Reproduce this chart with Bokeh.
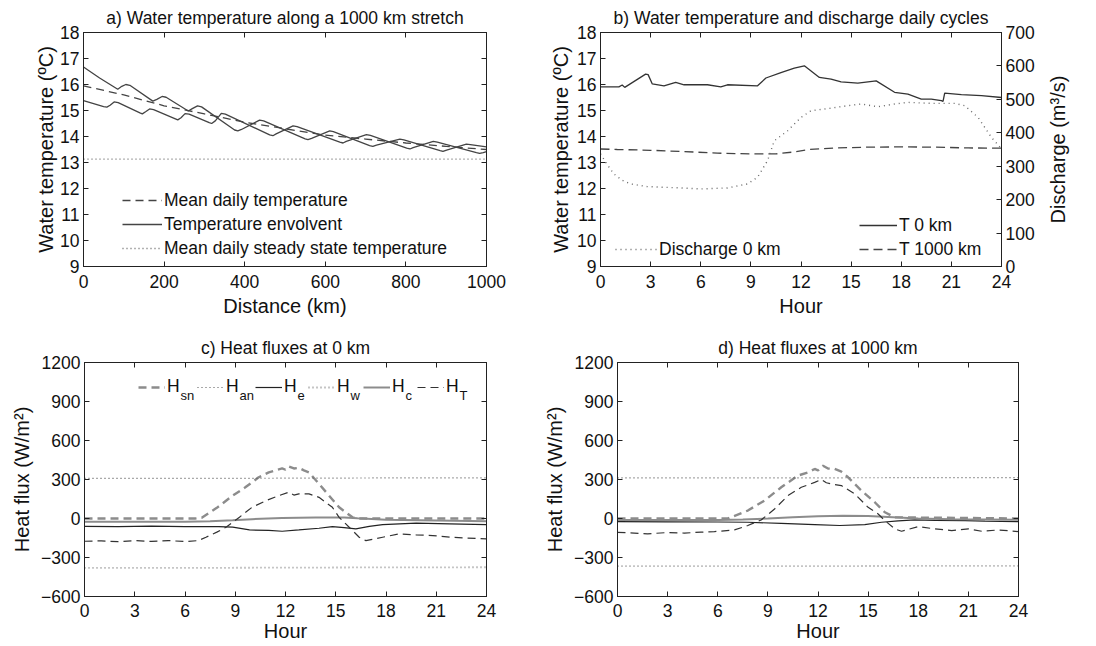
from bokeh.plotting import figure
from bokeh.models import Range1d, LinearAxis, FixedTicker, Legend, LegendItem, Label
from bokeh.layouts import row, column
from bokeh.embed import file_html
from bokeh.resources import INLINE

FONT = "Liberation Sans"
TXT = "#111111"

# ---------------- data: panel a ----------------
dist_mean = [0, 100, 200, 300, 400, 500, 600, 700, 800, 900, 1000]
t_mean = [15.95, 15.6, 15.18, 14.87, 14.55, 14.3, 14.05, 13.9, 13.75, 13.62, 13.5]
dist_env_a = [0, 40, 85, 95, 105, 115, 172, 182, 195, 205, 260, 270, 283, 293, 375, 383,
              392, 437, 447, 550, 557, 566, 611, 620, 710, 718, 727, 785, 795, 885, 892,
              901, 950, 960, 1000]
t_env_a = [16.67, 16.25, 15.82, 15.93, 16.00, 15.97, 15.36, 15.43, 15.54, 15.51, 14.98,
           15.07, 15.18, 15.14, 14.25, 14.22, 14.27, 14.63, 14.60, 13.91, 13.88, 13.93,
           14.22, 14.19, 13.65, 13.62, 13.67, 13.90, 13.87, 13.46, 13.43, 13.48, 13.71,
           13.69, 13.60]
dist_env_b = [0, 50, 58, 66, 76, 86, 140, 146, 154, 164, 174, 228, 234, 242, 252, 262,
              312, 318, 327, 342, 352, 462, 470, 478, 520, 530, 636, 644, 652, 702, 712,
              802, 810, 818, 868, 878, 975, 983, 992, 1000]
t_env_b = [15.38, 15.15, 15.13, 15.20, 15.33, 15.30, 14.91, 14.87, 14.95, 15.06, 15.03,
           14.68, 14.64, 14.72, 14.88, 14.86, 14.53, 14.50, 14.60, 14.89, 14.86, 14.06,
           14.03, 14.10, 14.41, 14.38, 13.78, 13.75, 13.81, 14.07, 14.04, 13.55, 13.52,
           13.57, 13.81, 13.78, 13.38, 13.35, 13.38, 13.42]
dist_steady = [0, 1000]
t_steady = [13.13, 13.13]

# ---------------- data: panel b ----------------
hours_t0 = [0, 1.1, 1.3, 1.45, 2.7, 2.85, 3.1, 3.8, 4.5, 5.0, 6.4, 7.2, 7.6, 9.4, 9.9,
            10.8, 11.6, 12.2, 13.1, 13.8, 14.4, 15.4, 16.5, 17.6, 18.4, 19.2, 19.8,
            20.4, 20.5, 20.6, 21.6, 22.8, 24]
t_0km = [15.91, 15.91, 15.98, 15.89, 16.40, 16.38, 16.02, 15.95, 16.08, 15.99, 15.99,
         15.91, 15.99, 15.95, 16.25, 16.46, 16.63, 16.72, 16.27, 16.21, 16.10, 16.05,
         16.14, 15.70, 15.63, 15.44, 15.44, 15.38, 15.35, 15.67, 15.61, 15.57, 15.50]
hours_t1000 = [0, 1, 3, 5, 7, 9, 10.5, 11.5, 12.5, 14, 16, 18, 20, 22, 24]
t_1000km = [13.52, 13.50, 13.47, 13.42, 13.36, 13.33, 13.33, 13.40, 13.50, 13.56,
            13.59, 13.60, 13.59, 13.56, 13.55]
hours_q = [0, 0.4, 0.8, 1.3, 1.8, 2.8, 4.8, 6, 7.6, 8.8, 9.4, 10, 10.4, 11.2, 12, 12.6,
           13.4, 14.8, 15.6, 16.6, 17.6, 18.4, 19.8, 21.2, 21.8, 22.6, 23.4, 24]
q_0km = [337, 305, 277, 258, 247, 239, 235, 232, 235, 247, 267, 317, 376, 406, 446, 466,
         471, 481, 486, 478, 486, 491, 488, 488, 481, 446, 386, 352]

# ---------------- data: panel c (0 km) ----------------
c_h_sn = [0, 6.6, 7.0, 7.9, 8.85, 9.6, 10.4, 11.0, 11.4, 11.8, 12.0, 12.2, 12.5, 12.8,
          13.1, 13.4, 14.0, 14.6, 15.2, 16.0, 16.3, 24]
c_sn = [0, 0, 5, 82, 176, 240, 317, 355, 370, 385, 375, 400, 385, 390, 370, 355, 266,
        176, 86, 9, 0, 0]
c_h_an = [0, 6, 12, 18, 24]
c_an = [308, 308, 310, 312, 312]
c_h_w = [0, 6, 12, 18, 24]
c_w = [-380, -380, -378, -376, -375]
c_h_e = [0, 2, 4, 6, 8, 8.85, 9.85, 11, 11.8, 12.8, 14, 14.8, 15.5, 16.2, 17, 17.8,
         19.8, 21.8, 24]
c_e = [-60, -62, -58, -62, -62, -67, -88, -92, -98, -88, -75, -62, -70, -80, -60, -47,
       -36, -42, -47]
c_h_c = [0, 6, 7.5, 8.85, 10, 11.8, 13.8, 15.5, 16.3, 18, 24]
c_c = [-25, -25, -22, -14, -5, 3, 8, 8, 2, -10, -22]
c_h_t = [0, 1, 2, 3, 4, 5, 6, 6.8, 7.25, 7.9, 8.45, 9.25, 10.0, 10.85, 11.6, 12.2, 12.5,
         12.8, 13.4, 14.0, 14.8, 15.2, 15.8, 16.4, 16.8, 17.8, 18.8, 19.8, 20.8, 21.8,
         22.8, 24]
c_t = [-175, -172, -178, -170, -176, -170, -177, -170, -144, -105, -67, 10, 86, 138, 176,
       202, 180, 189, 189, 163, 86, 9, -67, -144, -170, -144, -118, -126, -131, -144,
       -150, -157]

# ---------------- data: panel d (1000 km) ----------------
d_h_sn = [0, 6.6, 7.8, 8.8, 9.8, 10.8, 11.4, 11.8, 12.0, 12.3, 12.6, 13.0, 13.4, 13.8,
          14.6, 15.4, 16.0, 16.6, 24]
d_sn = [0, 0, 61, 138, 240, 330, 355, 381, 370, 406, 385, 381, 360, 317, 214, 125, 48,
        9, 0]
d_h_an = [0, 6, 12, 18, 24]
d_an = [312, 312, 313, 314, 314]
d_h_w = [0, 6, 12, 18, 24]
d_w = [-367, -367, -366, -365, -365]
d_h_e = [0, 3, 6, 7.8, 9.8, 11.8, 13.3, 14.8, 15.8, 16.8, 17.8, 19, 20.8, 22, 24]
d_e = [-24, -26, -27, -29, -38, -47, -54, -47, -29, -18, -11, -14, -16, -20, -24]
d_h_c = [0, 6, 7.5, 9, 10.5, 12, 13.5, 15, 16.5, 18, 20, 24]
d_c = [-11, -11, -8, 0, 10, 18, 22, 20, 10, 0, -5, -10]
d_h_t = [0, 1, 1.8, 3, 4, 5, 5.8, 7.0, 7.8, 8.6, 9.4, 10.2, 11, 11.8, 12.2, 12.5, 12.8,
         13.4, 14.2, 15, 15.6, 16, 16.6, 17, 18, 19, 20, 21, 21.8, 22.8, 24]
d_t = [-106, -112, -118, -108, -112, -105, -101, -88, -54, -11, 73, 176, 240, 278, 300,
       275, 266, 253, 189, 86, 35, -16, -80, -98, -62, -80, -93, -80, -98, -88, -101]

# ---------------- ticks / labels ----------------
ticks_dist = [0, 200, 400, 600, 800, 1000]
ticks_temp = list(range(9, 19))
ticks_hour = list(range(0, 25, 3))
ticks_q = list(range(0, 701, 100))
ticks_flux = list(range(-600, 1201, 300))


def style_axis(ax, ticks):
    ax.ticker = FixedTicker(ticks=ticks)
    ax.major_tick_in = 5
    ax.major_tick_out = 0
    ax.minor_tick_in = 0
    ax.minor_tick_out = 0
    ax.axis_line_color = "#222222"
    ax.major_tick_line_color = "#222222"
    ax.major_label_text_font = FONT
    ax.major_label_text_color = TXT
    ax.major_label_text_font_size = "17.5px"
    ax.major_label_standoff = 4
    ax.axis_label_text_font = FONT
    ax.axis_label_text_font_size = "20px"
    ax.axis_label_text_font_style = "normal"
    ax.axis_label_text_color = TXT
    ax.axis_label_standoff = 3


def mirror_axis(ticks, **kw):
    # tick marks only (drawn as minor ticks, so no labels are drawn)
    ax = LinearAxis(ticker=FixedTicker(ticks=[], minor_ticks=ticks), **kw)
    ax.major_tick_in = 0
    ax.major_tick_out = 0
    ax.minor_tick_in = 5
    ax.minor_tick_out = 0
    ax.minor_tick_line_color = "#222222"
    ax.axis_line_color = "#222222"
    ax.major_label_standoff = 0
    return ax


def make_fig(title, xr, yr, fw, fh, left, right, top, bottom):
    p = figure(output_backend="svg", toolbar_location=None,
               frame_width=fw, frame_height=fh,
               x_range=Range1d(*xr), y_range=Range1d(*yr),
               min_border_left=left, min_border_right=right,
               min_border_top=top, min_border_bottom=bottom)
    p.grid.visible = False
    p.outline_line_color = "#222222"
    p.outline_line_width = 1
    p.background_fill_color = "white"
    p.border_fill_color = "white"
    p.title.text = title
    p.title.align = "center"
    p.title.text_font = FONT
    p.title.text_font_size = "17.5px"
    p.title.text_font_style = "normal"
    p.title.text_color = TXT
    return p


def legend_style(lg, gw, gh):
    lg.label_text_font = FONT
    lg.label_text_font_size = "17.5px"
    lg.label_text_color = TXT
    lg.background_fill_alpha = 0
    lg.border_line_alpha = 0
    lg.padding = 0
    lg.margin = 0
    lg.spacing = 0
    lg.glyph_width = gw
    lg.glyph_height = gh
    lg.label_height = gh
    lg.label_standoff = 2


# ================= panel a =================
pa = make_fig("a) Water temperature along a 1000 km stretch", (0, 1000), (9, 18),
              403, 234, 83, 54, 27, 50)
style_axis(pa.xaxis[0], ticks_dist)
style_axis(pa.yaxis[0], ticks_temp)
pa.xaxis[0].major_label_standoff = 8
pa.xaxis[0].axis_label_standoff = 4
pa.yaxis[0].axis_label_standoff = 0
pa.xaxis[0].axis_label = "Distance (km)"
pa.yaxis[0].axis_label = "Water temperature (ºC)"
pa.add_layout(mirror_axis(ticks_dist), "above")
pa.add_layout(mirror_axis(ticks_temp), "right")

ra_mean = pa.line(dist_mean, t_mean, line_color="#444444", line_width=1.3, line_dash="8 5")
ra_env = pa.line(dist_env_a, t_env_a, line_color="#444444", line_width=1.3)
pa.line(dist_env_b, t_env_b, line_color="#444444", line_width=1.3)
ra_st = pa.line(dist_steady, t_steady, line_color="#666666", line_width=1.3, line_dash="1 3")
lga = Legend(items=[LegendItem(label="Mean daily temperature", renderers=[ra_mean]),
                    LegendItem(label="Temperature envolvent", renderers=[ra_env]),
                    LegendItem(label="Mean daily steady state temperature", renderers=[ra_st])],
             location=(39, 6))
legend_style(lga, 40, 24)
pa.add_layout(lga)

# ================= panel b =================
pb = make_fig("b) Water temperature and discharge daily cycles", (0, 24), (9, 18),
              401, 234, 60, 42, 27, 50)
pb.extra_y_ranges = {"q": Range1d(0, 700)}
style_axis(pb.xaxis[0], ticks_hour)
style_axis(pb.yaxis[0], ticks_temp)
pb.xaxis[0].major_label_standoff = 8
pb.xaxis[0].axis_label_standoff = 4
pb.yaxis[0].axis_label_standoff = 2
pb.xaxis[0].axis_label = "Hour"
pb.yaxis[0].axis_label = "Water temperature (ºC)"
pb.add_layout(mirror_axis(ticks_hour), "above")
ax_q = LinearAxis(y_range_name="q")
style_axis(ax_q, ticks_q)
pb.add_layout(ax_q, "right")

rb_t0 = pb.line(hours_t0, t_0km, line_color="#333333", line_width=1.3)
rb_t1000 = pb.line(hours_t1000, t_1000km, line_color="#444444", line_width=1.3, line_dash="9 5")
rb_q = pb.line(hours_q, q_0km, y_range_name="q", line_color="#666666", line_width=1.4,
               line_dash="1 4")
lgb1 = Legend(items=[LegendItem(label="T 0 km", renderers=[rb_t0]),
                     LegendItem(label="T 1000 km", renderers=[rb_t1000])],
              location=(259, 5))
legend_style(lgb1, 38, 24)
pb.add_layout(lgb1)
lgb2 = Legend(items=[LegendItem(label="Discharge 0 km", renderers=[rb_q])], location=(15, 5))
legend_style(lgb2, 42, 24)
pb.add_layout(lgb2)

# right-hand axis title of panel b (reads bottom to top, as in the original)
pq = figure(output_backend="svg", toolbar_location=None, frame_width=28, frame_height=234,
            x_range=Range1d(0, 1), y_range=Range1d(0, 1),
            x_axis_location=None, y_axis_location=None,
            min_border_left=0, min_border_right=0, min_border_top=27, min_border_bottom=50)
pq.grid.visible = False
pq.outline_line_color = None
pq.border_fill_color = "white"
pq.add_layout(Label(x=0.5, y=0.5, text="Discharge (m³/s)", angle=90, angle_units="deg",
                    text_align="center", text_baseline="middle", text_font=FONT,
                    text_font_size="20px", text_color=TXT))


# ================= panels c, d =================
def flux_fig(title, left, right, fw):
    p = make_fig(title, (0, 24), (-600, 1200), fw, 234, left, right, 43, 42)
    style_axis(p.xaxis[0], ticks_hour)
    style_axis(p.yaxis[0], ticks_flux)
    p.xaxis[0].axis_label = "Hour"
    p.yaxis[0].axis_label = "Heat flux (W/m²)"
    p.xaxis[0].major_label_standoff = 7
    p.xaxis[0].axis_label_standoff = 0
    p.yaxis[0].axis_label_standoff = 5
    p.add_layout(mirror_axis(ticks_hour), "above")
    p.add_layout(mirror_axis(ticks_flux), "right")
    return p


def flux_lines(p, hsn, sn, han, an, he, e, hw, w, hc, c, ht, t):
    r_sn = p.line(hsn, sn, line_color="#8c8c8c", line_width=2.4, line_dash="8 5")
    r_an = p.line(han, an, line_color="#555555", line_width=1.2, line_dash="1 3")
    r_e = p.line(he, e, line_color="#222222", line_width=1.2)
    r_w = p.line(hw, w, line_color="#8c8c8c", line_width=1.8, line_dash="1 3")
    r_c = p.line(hc, c, line_color="#8c8c8c", line_width=2.0)
    r_t = p.line(ht, t, line_color="#333333", line_width=1.2, line_dash="8 5")
    return [r_sn, r_an, r_e, r_w, r_c, r_t]


pc = flux_fig("c) Heat fluxes at 0 km", 84, 55, 402)
rc = flux_lines(pc, c_h_sn, c_sn, c_h_an, c_an, c_h_e, c_e, c_h_w, c_w, c_h_c, c_c,
                c_h_t, c_t)
subs = ["sn", "an", "e", "w", "c", "T"]
leg_x = [54, 113, 171, 224, 279, 333]
for r, s, lx in zip(rc, subs, leg_x):
    lg = Legend(items=[LegendItem(label="H", renderers=[r])], location=(lx, 199))
    legend_style(lg, 27, 20)
    pc.add_layout(lg)
    pc.add_layout(Label(x=lx + 27 + 2 + 13, y=201, x_units="screen", y_units="screen",
                        text=s, text_font=FONT, text_font_size="13px", text_color=TXT,
                        text_baseline="middle", text_align="left"))

pd_ = flux_fig("d) Heat fluxes at 1000 km", 76, 20, 401)
flux_lines(pd_, d_h_sn, d_sn, d_h_an, d_an, d_h_e, d_e, d_h_w, d_w, d_h_c, d_c,
           d_h_t, d_t)

layout = column(row(pa, pb, pq), row(pc, pd_))
open("out.html", "w").write(file_html(layout, INLINE))
